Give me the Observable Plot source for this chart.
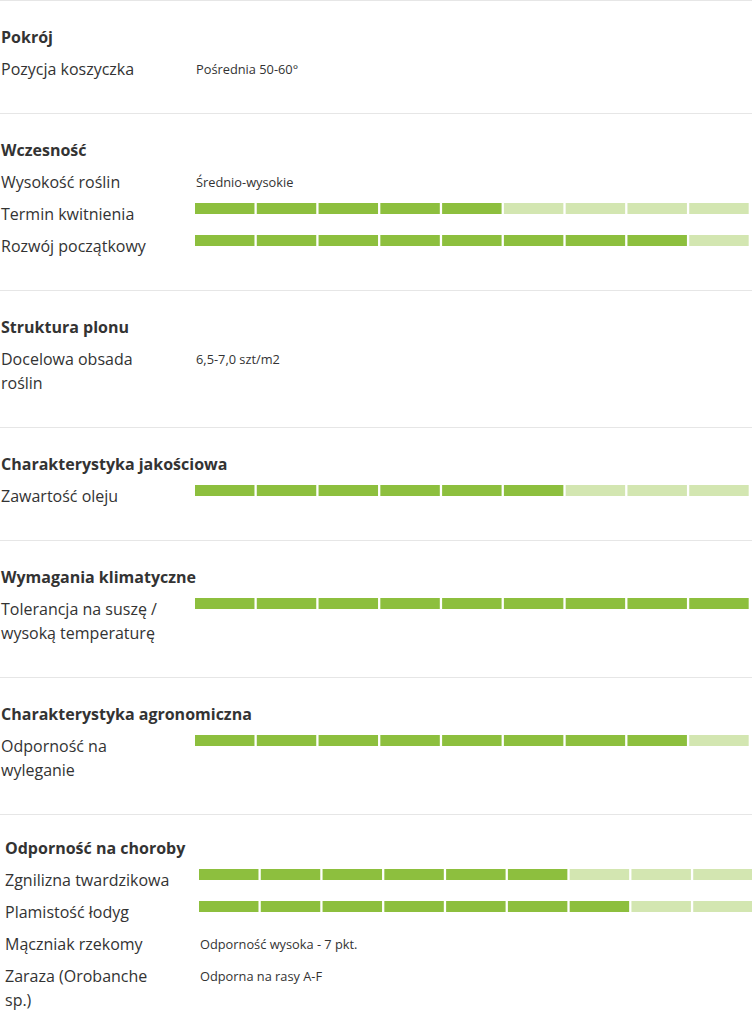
<!DOCTYPE html>
<html>
<head>
<meta charset="utf-8">
<script src="https://cdn.jsdelivr.net/npm/d3@7"></script>
<script src="https://cdn.jsdelivr.net/npm/@observablehq/plot@0.6"></script>
<style>
  html, body { margin: 0; padding: 0; background: #fff; }
  body { width: 752px; height: 1010px; overflow: hidden; font-family: "Open Sans", sans-serif; color: #333; }
  .section { border-top: 1px solid #e6e6e6; padding: 20px 0 28px 0; width: 752px; box-sizing: border-box; overflow: hidden; }
  .section.last { padding-top: 17px; padding-left: 4px; }
  .heading { height: 32px; box-sizing: border-box; padding: 4px 0 4px 1px; line-height: 24px; font-size: 16px; font-weight: 700; white-space: nowrap; }
  .row { display: flex; align-items: flex-start; padding: 4px 0; box-sizing: border-box; }
  .label { width: 195px; flex: none; box-sizing: border-box; padding-left: 1px; font-size: 16px; line-height: 24px; white-space: pre-line; }
  .value { flex: none; font-size: 12.8px; line-height: 24px; white-space: nowrap; padding-left: 1px; }
  .bar { padding-top: 1px; flex: none; width: 556px; }
  .bar svg { display: block; max-width: none !important; }
</style>
</head>
<body>
<div id="root"></div>
<script>
// ---- data ----
const sectionTitles = [
  "Pokrój",
  "Wczesność",
  "Struktura plonu",
  "Charakterystyka jakościowa",
  "Wymagania klimatyczne",
  "Charakterystyka agronomiczna",
  "Odporność na choroby"
];
const rowLabels = [
  "Pozycja koszyczka",
  "Wysokość roślin",
  "Termin kwitnienia",
  "Rozwój początkowy",
  "Docelowa obsada\nroślin",
  "Zawartość oleju",
  "Tolerancja na suszę /\nwysoką temperaturę",
  "Odporność na\nwyleganie",
  "Zgnilizna twardzikowa",
  "Plamistość łodyg",
  "Mączniak rzekomy",
  "Zaraza (Orobanche\nsp.)"
];
const rowSection = [0, 1, 1, 1, 2, 3, 4, 5, 6, 6, 6, 6];
const rowScores  = [null, null, 5, 8, null, 6, 9, 8, 6, 7, null, null];
const rowTexts   = ["Pośrednia 50-60°", "Średnio-wysokie", null, null, "6,5-7,0 szt/m2", null, null, null, null, null, "Odporność wysoka - 7 pkt.", "Odporna na rasy A-F"];
const scaleMax = 9;
const stateNames = ["tak", "nie"];
const stateColors = ["#8dbf3e", "#d3e6b1"];

// ---- build ----
const root = document.getElementById("root");
sectionTitles.forEach((title, s) => {
  const sec = document.createElement("div");
  sec.className = "section" + (s === sectionTitles.length - 1 ? " last" : "");
  const h = document.createElement("div");
  h.className = "heading";
  h.textContent = title;
  sec.appendChild(h);
  rowLabels.forEach((lab, r) => {
    if (rowSection[r] !== s) return;
    const row = document.createElement("div");
    row.className = "row";
    const l = document.createElement("div");
    l.className = "label";
    l.textContent = lab;
    row.appendChild(l);
    if (rowScores[r] != null) {
      const b = document.createElement("div");
      b.className = "bar";
      const segs = d3.range(scaleMax).map(i => ({i, state: i < rowScores[r] ? stateNames[0] : stateNames[1]}));
      b.appendChild(Plot.plot({
        width: 556,
        height: 11,
        margin: 0,
        x: {domain: [0, scaleMax], range: [0, 556], axis: null},
        color: {domain: stateNames, range: stateColors},
        marks: [
          Plot.rect(segs, {x1: d => d.i, x2: d => d.i + 1, fill: "state", insetRight: 2.3})
        ]
      }));
      row.appendChild(b);
    } else {
      const v = document.createElement("div");
      v.className = "value";
      v.textContent = rowTexts[r];
      row.appendChild(v);
    }
    sec.appendChild(row);
  });
  root.appendChild(sec);
});
</script>
</body>
</html>
